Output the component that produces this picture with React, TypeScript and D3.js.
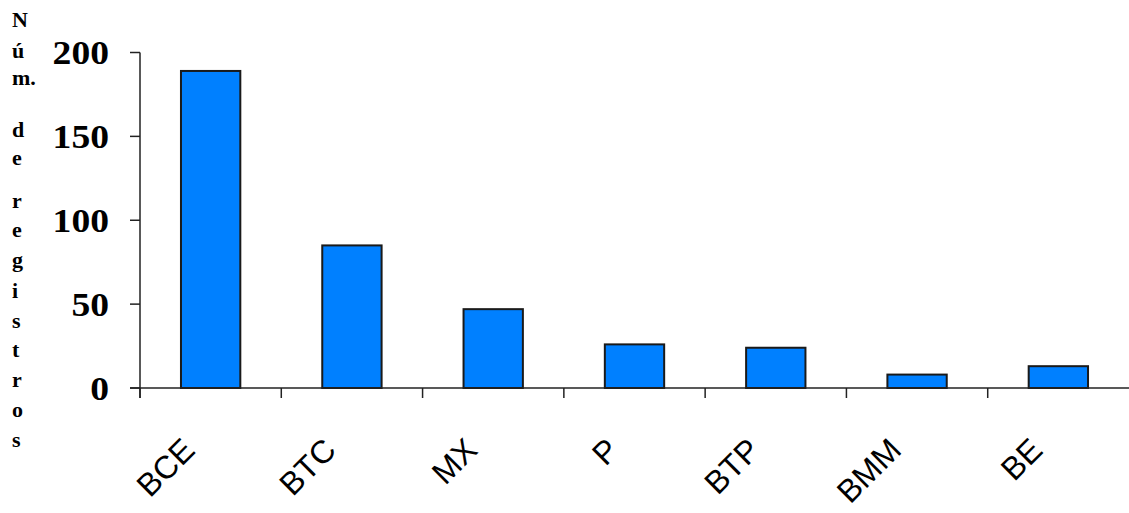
import React from "react";
import * as d3 from "d3";

const categories = ["BCE", "BTC", "MX", "P", "BTP", "BMM", "BE"];
const values = [189, 85, 47, 26, 24, 8, 13];
const yTicks = [0, 50, 100, 150, 200];
const yLabelLines = ["N", "ú", "m.", "d", "e", "r", "e", "g", "i", "s", "t", "r", "o", "s"];
// baseline y positions of the stacked axis-title lines (layout only)
const yLabelBaselines = [27, 58, 85, 137, 165, 208, 237, 267, 298, 328, 357, 387, 417, 447];

const W = 1129;
const H = 513;

export default function App() {
  const x = d3.scaleBand<string>().domain(categories).range([140, 1129]).paddingInner(0.58).paddingOuter(0.29);
  const y = d3.scaleLinear().domain([0, 200]).range([388, 52.5]);
  const step = x.step();
  const x0 = 140;
  const axisColor = "#222";

  return (
    <svg width={W} height={H} style={{ position: "absolute", left: 0, top: 0, background: "#fff" }}>
      {/* y-axis title stacked */}
      {yLabelLines.map((t, i) => (
        <text key={"yl" + i} x={12} y={yLabelBaselines[i]} fontFamily="'Liberation Serif', 'Times New Roman', serif" fontWeight="bold" fontSize={22} fill="#000">
          {t}
        </text>
      ))}
      {/* bars */}
      {categories.map((c, i) => (
        <rect
          key={c}
          x={x(c)}
          y={y(values[i])}
          width={x.bandwidth()}
          height={y(0) - y(values[i])}
          fill="#0080FF"
          stroke="#1a1a1a"
          strokeWidth={2}
        />
      ))}
      {/* y axis */}
      <line x1={x0} x2={x0} y1={y(200)} y2={y(0) + 10} stroke={axisColor} strokeWidth={1.5} />
      {yTicks.map((t) => (
        <g key={"yt" + t}>
          <line x1={x0 - 10} x2={x0} y1={y(t)} y2={y(t)} stroke={axisColor} strokeWidth={1.5} />
          <text
            transform={`translate(109, ${y(t) + 11.5}) scale(1.14, 1)`}
            textAnchor="end"
            fontFamily="'Liberation Serif', 'Times New Roman', serif"
            fontWeight="bold"
            fontSize={33}
            fill="#000"
          >
            {t}
          </text>
        </g>
      ))}
      {/* x axis */}
      <line x1={x0 - 10} x2={W} y1={y(0)} y2={y(0)} stroke={axisColor} strokeWidth={1.5} />
      {categories.map((c, i) => (
        <line key={"xt" + c} x1={x0 + i * step} x2={x0 + i * step} y1={y(0)} y2={y(0) + 10} stroke={axisColor} strokeWidth={1.5} />
      ))}
      {categories.map((c) => {
        const cx = (x(c) as number) + x.bandwidth() / 2 - 14;
        const cy = 452;
        return (
          <text
            key={"xl" + c}
            x={cx}
            y={cy}
            textAnchor="end"
            transform={`rotate(-45, ${cx}, ${cy})`}
            fontFamily="'Liberation Sans', Arial, sans-serif"
            fontSize={32}
            fill="#000"
          >
            {c}
          </text>
        );
      })}
    </svg>
  );
}
